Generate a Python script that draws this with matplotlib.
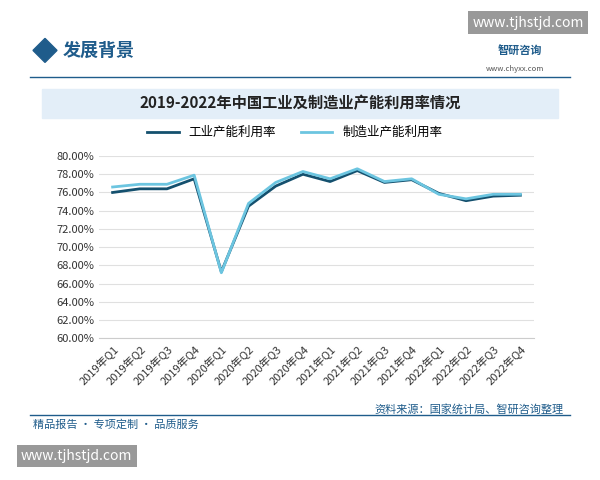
import matplotlib.pyplot as plt
from matplotlib.patches import Rectangle, Polygon

plt.rcParams['font.family'] = ['Noto Sans CJK SC', 'DejaVu Sans']

quarters = [f"{y}年Q{q}" for y in range(2019, 2023) for q in range(1, 5)]
industry = [76.0, 76.4, 76.4, 77.5, 67.3, 74.5, 76.7, 78.0, 77.2, 78.4, 77.1, 77.4, 75.9, 75.1, 75.6, 75.7]
manufacturing = [76.6, 76.9, 76.9, 77.9, 67.2, 74.8, 77.1, 78.3, 77.5, 78.6, 77.2, 77.5, 75.8, 75.3, 75.8, 75.8]

fig = plt.figure(figsize=(6, 4.8), dpi=100)
fig.patch.set_facecolor("white")

# header
fig.patches.append(Polygon([[0.055, 0.895], [0.075, 0.92], [0.095, 0.895], [0.075, 0.87]],
                           closed=True, transform=fig.transFigure, color="#1f5c8b"))
fig.text(0.105, 0.895, "发展背景", fontsize=13, color="#1f5c8b", weight="bold", va="center")
fig.text(0.83, 0.895, "智研咨询", fontsize=8, color="#1f5c8b", weight="bold", va="center")
fig.text(0.81, 0.857, "www.chyxx.com", fontsize=5.5, color="#555", va="center")
fig.text(0.88, 0.953, "www.tjhstjd.com", fontsize=10, color="white", va="center", ha="center",
         bbox=dict(facecolor="#999", edgecolor="none", pad=3))
fig.add_artist(plt.Line2D([0.05, 0.95], [0.84, 0.84], color="#1f5c8b", lw=1))

# title band
fig.patches.append(Rectangle((0.07, 0.755), 0.86, 0.06, transform=fig.transFigure,
                             color="#e3eef8"))
fig.text(0.5, 0.785, "2019-2022年中国工业及制造业产能利用率情况", fontsize=11, weight="bold",
         ha="center", va="center", color="#222")

ax = fig.add_axes([0.165, 0.295, 0.725, 0.38])
x = range(len(quarters))
ax.plot(x, industry, color="#14506e", lw=2, label="工业产能利用率")
ax.plot(x, manufacturing, color="#6cc5e0", lw=2, label="制造业产能利用率")
ax.set_ylim(60, 80)
ax.set_yticks(range(60, 81, 2))
ax.set_yticklabels([f"{v:.2f}%" for v in range(60, 81, 2)], fontsize=8, color="#333")
ax.set_xticks(list(x))
ax.set_xticklabels(quarters, rotation=45, ha="right", fontsize=8, color="#333",
                   rotation_mode="anchor")
ax.set_xlim(-0.5, len(quarters) - 0.5)
ax.grid(axis="y", color="#e0e0e0", lw=0.8)
for s in ["top", "right", "left"]:
    ax.spines[s].set_visible(False)
ax.spines["bottom"].set_color("#ccc")
ax.tick_params(length=0)
ax.legend(loc="lower center", bbox_to_anchor=(0.45, 1.03), ncol=2, frameon=False,
          fontsize=9, handlelength=2.5)

# footer
fig.add_artist(plt.Line2D([0.05, 0.95], [0.135, 0.135], color="#1f5c8b", lw=1))
fig.text(0.055, 0.115, "精品报告 · 专项定制 · 品质服务", fontsize=8, color="#1f5c8b", va="center")
fig.text(0.94, 0.135, "资料来源：国家统计局、智研咨询整理", fontsize=8, color="#1f5c8b",
         va="bottom", ha="right")
fig.text(0.035, 0.05, "www.tjhstjd.com", fontsize=10, color="white", va="center",
         bbox=dict(facecolor="#999", edgecolor="none", pad=3))

fig.savefig("out.png", dpi=100)
